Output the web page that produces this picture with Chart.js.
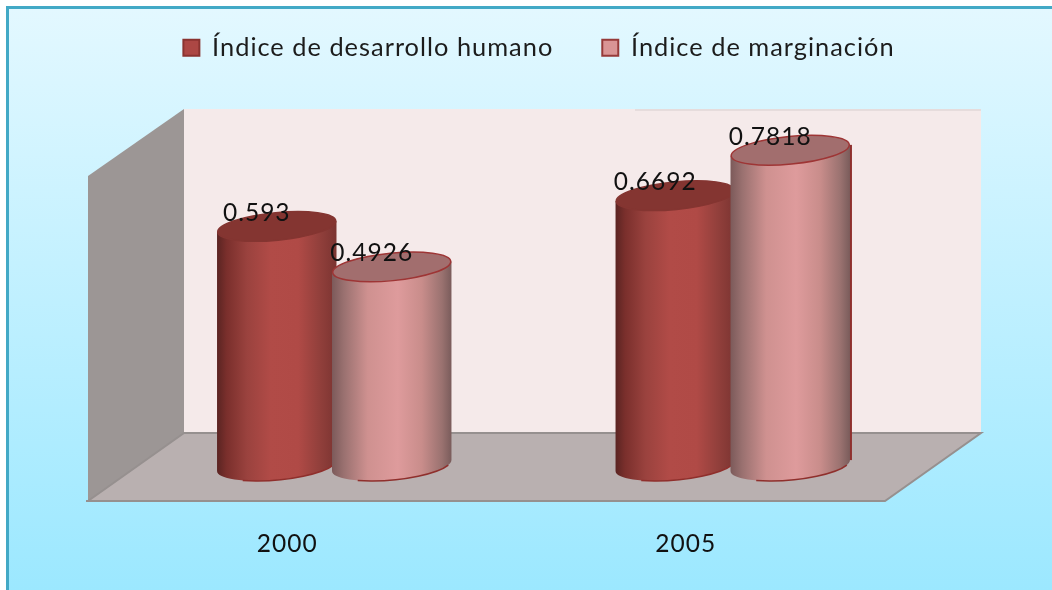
<!DOCTYPE html>
<html lang="es">
<head>
<meta charset="utf-8">
<title>Índice de desarrollo humano e Índice de marginación</title>
<script src="https://cdn.jsdelivr.net/npm/chart.js@4"></script>
<style>
html,body{margin:0;padding:0;background:#fff}
canvas{display:block}
</style>
</head>
<body>
<canvas id="c" width="1052" height="590"></canvas>
<script>
const categories = ['2000', '2005'];
const desarrolloHumano = [0.593, 0.6692];
const marginacion = [0.4926, 0.7818];
const seriesNames = ['Índice de desarrollo humano', 'Índice de marginación'];

const FONT = 'Lato, Carlito, "Open Sans", sans-serif';
const AXIS_MAX = 0.9452;

const skins = [
  {
    stops: [[0,'#5a2422'],[0.08,'#7a2f2c'],[0.25,'#9a423e'],[0.45,'#b14b47'],[0.68,'#b04a46'],[0.85,'#93403c'],[1,'#7b3431']],
    cap: '#843531', capEdge: '#843531', foot: '#8f2f2c'
  },
  {
    stops: [[0,'#7c5a5a'],[0.1,'#9a7170'],[0.3,'#cf9190'],[0.55,'#de9b9c'],[0.75,'#c98d8b'],[0.92,'#9a7270'],[1,'#7a5c5b']],
    cap: '#a26e6e', capEdge: '#9e3535', foot: '#8f2f2c'
  }
];

const stagePlugin = {
  id: 'stage',
  beforeDraw(chart) {
    const {ctx, width, height, chartArea: a} = chart;
    const base = a.bottom;
    ctx.save();
    // frame and sky
    ctx.fillStyle = '#fff';
    ctx.fillRect(0, 0, width, height);
    ctx.fillStyle = '#42a9c6';
    ctx.fillRect(6, 6, width - 6, height - 6);
    const sky = ctx.createLinearGradient(0, 9, 0, height);
    sky.addColorStop(0, '#e3f8ff');
    sky.addColorStop(1, '#9ce8ff');
    ctx.fillStyle = sky;
    ctx.fillRect(9, 9, width - 9, height - 9);

    const fl = a.left - 47, bl = a.left + 49, fr = a.right - 47, br = a.right + 49;
    const backY = base - 32.5, frontY = base + 35.5;
    const wallTop = base - 356.5, sideTop = base - 289.5;

    // back wall
    ctx.fillStyle = '#f5eaea';
    ctx.fillRect(bl, wallTop, br - bl, backY - wallTop);
    ctx.fillStyle = '#e6dcdc';
    ctx.fillRect(a.left + 500, wallTop, br - a.left - 500, 2);

    // left wall
    ctx.fillStyle = '#9c9695';
    ctx.beginPath();
    ctx.moveTo(fl, sideTop);
    ctx.lineTo(bl, wallTop);
    ctx.lineTo(bl, backY);
    ctx.lineTo(fl, frontY);
    ctx.closePath();
    ctx.fill();

    // floor
    ctx.fillStyle = '#b9b0b0';
    ctx.beginPath();
    ctx.moveTo(fl, frontY);
    ctx.lineTo(bl, backY);
    ctx.lineTo(br, backY);
    ctx.lineTo(fr, frontY);
    ctx.closePath();
    ctx.fill();

    ctx.strokeStyle = '#96908f';
    ctx.lineWidth = 2;
    ctx.beginPath();
    ctx.moveTo(fl - 2, frontY);
    ctx.lineTo(fr, frontY);
    ctx.lineTo(br, backY);
    ctx.lineTo(bl, backY);
    ctx.lineTo(fl, frontY);
    ctx.stroke();
    ctx.restore();
  }
};

function drawCylinders(chart, index) {
  const {ctx} = chart;
  const skin = skins[index];
  const tilt = -5.5 * Math.PI / 180;
  chart.getDatasetMeta(index).data.forEach((el, i) => {
    const rx = el.width / 2 + 2.5, ry = 14.5;
    const t0 = Math.atan2(-ry * Math.sin(tilt), rx * Math.cos(tilt));
    const ex = rx * Math.cos(t0) * Math.cos(tilt) - ry * Math.sin(t0) * Math.sin(tilt);
    const ey = rx * Math.cos(t0) * Math.sin(tilt) + ry * Math.sin(t0) * Math.cos(tilt);
    const cx = el.x, top = el.y, bot = el.base;
    ctx.save();

    // the second 2005 column shows a dark seam on its right edge
    if (index === 1 && i === 1) {
      ctx.fillStyle = '#8f302e';
      ctx.fillRect(cx + ex - 1, top + ey, 3, bot - top);
    }

    const g = ctx.createLinearGradient(cx - ex, 0, cx + ex, 0);
    skin.stops.forEach(s => g.addColorStop(s[0], s[1]));
    ctx.fillStyle = g;
    ctx.beginPath();
    ctx.moveTo(cx - ex, top - ey);
    ctx.lineTo(cx - ex, bot - ey);
    ctx.ellipse(cx, bot, rx, ry, tilt, t0 + Math.PI, t0, true);
    ctx.lineTo(cx + ex, top + ey);
    ctx.closePath();
    ctx.fill();

    // foot rim
    ctx.strokeStyle = skin.foot;
    ctx.lineWidth = 1.5;
    ctx.beginPath();
    ctx.ellipse(cx, bot, rx, ry, tilt, 0.35, 2.2);
    ctx.stroke();

    // cap
    ctx.fillStyle = skin.cap;
    ctx.strokeStyle = skin.capEdge;
    ctx.lineWidth = 1.5;
    ctx.beginPath();
    ctx.ellipse(cx, top, rx - 0.7, ry - 0.7, tilt, 0, Math.PI * 2);
    ctx.fill();
    ctx.stroke();
    ctx.restore();
  });
}

const cylinderPlugin = {
  id: 'cylinders',
  beforeDatasetDraw() { return false; },
  afterDatasetsDraw(chart) {
    const {ctx} = chart;
    chart.data.datasets.forEach((ds, d) => drawCylinders(chart, d));
    ctx.save();
    ctx.font = '24.5px ' + FONT;
    ctx.fillStyle = '#111';
    ctx.textAlign = 'center';
    ctx.textBaseline = 'middle';
    chart.data.datasets.forEach((ds, d) => {
      chart.getDatasetMeta(d).data.forEach((el, i) => {
        ctx.fillText(String(ds.data[i]), el.x - 20, el.y - 13.5);
      });
    });
    ctx.restore();
  }
};

const legendShift = {
  id: 'legendShift',
  afterInit(chart) { chart.ctx.letterSpacing = '1px'; },
  afterLayout(chart) {
    const l = chart.legend;
    l.left += 13; l.right += 13;
    l.top -= 14; l.bottom -= 14;
  }
};

const hiddenAxis = (position, size) => ({
  position,
  display: true,
  min: 0,
  max: AXIS_MAX,
  grid: {display: false, drawTicks: false},
  border: {display: false},
  ticks: {display: false},
  afterFit(s) { s.width = size; }
});

new Chart(document.getElementById('c'), {
  type: 'bar',
  data: {
    labels: categories,
    datasets: [
      {label: seriesNames[0], data: desarrolloHumano, backgroundColor: '#ac4744', borderColor: '#8a3330', borderWidth: 2},
      {label: seriesNames[1], data: marginacion, backgroundColor: '#d99595', borderColor: '#963a39', borderWidth: 2}
    ]
  },
  plugins: [stagePlugin, cylinderPlugin, legendShift],
  options: {
    responsive: false,
    animation: false,
    devicePixelRatio: 1,
    datasets: {bar: {categoryPercentage: 0.577, barPercentage: 1}},
    layout: {padding: 0},
    plugins: {
      tooltip: {enabled: false},
      legend: {
        position: 'top',
        labels: {
          boxWidth: 16, boxHeight: 16, padding: 49,
          color: '#1c1c1c',
          font: {family: FONT, size: 25.4}
        }
      }
    },
    scales: {
      y: hiddenAxis('left', 135),
      yRight: hiddenAxis('right', 120),
      x: {
        grid: {display: false, drawTicks: false},
        border: {display: false},
        afterFit(s) { s.height = 124.5; },
        ticks: {
          color: '#111',
          font: {family: FONT, size: 24.5},
          padding: 64,
          labelOffset: -47,
          maxRotation: 0
        }
      }
    }
  }
});
</script>
</body>
</html>
